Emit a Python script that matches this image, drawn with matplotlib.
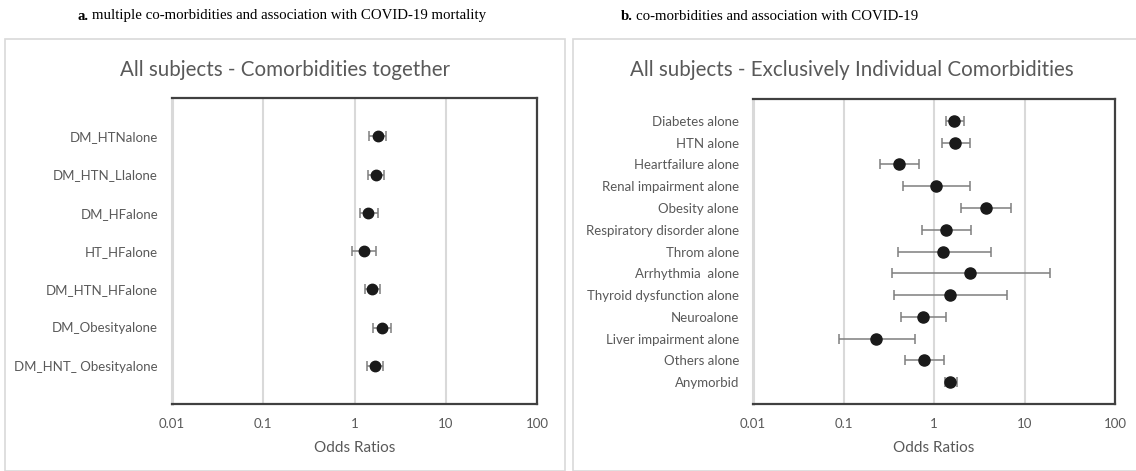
import matplotlib
matplotlib.use("Agg")
from matplotlib import pyplot as plt
from matplotlib.patches import Rectangle

# panel a - combinations of comorbidities
combo_labels = ["DM_HTNalone", "DM_HTN_LIalone", "DM_HFalone", "HT_HFalone",
                "DM_HTN_HFalone", "DM_Obesityalone", "DM_HNT_ Obesityalone"]
combo_or = [1.79, 1.71, 1.42, 1.26, 1.57, 1.99, 1.67]
combo_lo = [1.45, 1.39, 1.14, 0.94, 1.29, 1.60, 1.37]
combo_hi = [2.22, 2.11, 1.79, 1.70, 1.91, 2.50, 2.03]

# panel b - individual comorbidities
indiv_labels = ["Diabetes alone", "HTN alone", "Heartfailure alone", "Renal impairment alone",
                "Obesity alone", "Respiratory disorder alone", "Throm alone", "Arrhythmia  alone",
                "Thyroid dysfunction alone", "Neuroalone", "Liver impairment alone",
                "Others alone", "Anymorbid"]
indiv_or = [1.67, 1.72, 0.41, 1.06, 3.74, 1.35, 1.27, 2.53, 1.52, 0.75, 0.23, 0.77, 1.52]
indiv_lo = [1.34, 1.24, 0.25, 0.46, 2.01, 0.74, 0.40, 0.34, 0.36, 0.43, 0.09, 0.48, 1.31]
indiv_hi = [2.13, 2.49, 0.68, 2.51, 7.14, 2.55, 4.22, 19.0, 6.45, 1.34, 0.62, 1.29, 1.80]

xticks = [0.01, 0.1, 1, 10, 100]
xticklabels = ["0.01", "0.1", "1", "10", "100"]

W, H = 1136, 471
GRAY_TXT = "#595959"
LIGHT = "#d9d9d9"
DARK = "#404040"
SANS = ["Lato", "DejaVu Sans"]


def px_axes(fig, x0, y0, x1, y1):
    return fig.add_axes([x0 / W, 1 - y1 / H, (x1 - x0) / W, (y1 - y0) / H])


def forest(ax, labels, vals, lo, hi, msize):
    n = len(labels)
    ys = list(range(n, 0, -1))
    err = [[v - l for v, l in zip(vals, lo)], [h - v for v, h in zip(vals, hi)]]
    ax.errorbar(vals, ys, xerr=err, fmt="none", ecolor="#7f7f7f", elinewidth=1.1,
                capsize=3.5, capthick=1.1, zorder=2)
    ax.plot(vals, ys, "o", color="#1a1a1a", markersize=msize, zorder=3)
    ax.set_xscale("log")
    ax.set_xlim(0.01, 100)
    ax.set_ylim(0, n + 1)
    ax.set_xticks(xticks)
    ax.set_xticklabels(xticklabels)
    ax.minorticks_off()
    ax.set_yticks(ys)
    ax.set_yticklabels(labels)
    ax.tick_params(length=0, labelcolor=GRAY_TXT, labelsize=9.5, pad=10)
    for lab in ax.get_xticklabels() + ax.get_yticklabels():
        lab.set_family(SANS)
    ax.grid(axis="x", color=LIGHT, linewidth=1.5, zorder=0)
    ax.set_axisbelow(True)
    for s in ["top", "right", "bottom"]:
        ax.spines[s].set_color(DARK)
        ax.spines[s].set_linewidth(1.6)
    ax.spines["left"].set_color(LIGHT)
    ax.spines["left"].set_linewidth(2.2)
    ax.set_xlabel("Odds Ratios", color=GRAY_TXT, fontsize=11, family=SANS, labelpad=8)


fig = plt.figure(figsize=(W / 100, H / 100), dpi=100)

# panel frames
fig.patches.append(Rectangle((5 / W, 0), 560 / W, 1 - 39 / H, transform=fig.transFigure,
                             fill=False, edgecolor=LIGHT, linewidth=1.2))
fig.patches.append(Rectangle((573 / W, 0), 600 / W, 1 - 39 / H, transform=fig.transFigure,
                             fill=False, edgecolor=LIGHT, linewidth=1.2))

ax1 = px_axes(fig, 172, 98, 537, 404)
forest(ax1, combo_labels, combo_or, combo_lo, combo_hi, 7.5)

ax2 = px_axes(fig, 753, 99, 1115, 404)
forest(ax2, indiv_labels, indiv_or, indiv_lo, indiv_hi, 8)

fig.text(285 / W, 1 - 70 / H, "All subjects - Comorbidities together", ha="center", va="center",
         color=GRAY_TXT, fontsize=14.8, family=SANS)
fig.text(852 / W, 1 - 70 / H, "All subjects - Exclusively Individual Comorbidities", ha="center",
         va="center", color=GRAY_TXT, fontsize=14.8, family=SANS)

# captions: bold letter + plain text
captions = [(78, "a.", "multiple co-morbidities and association with COVID-19 mortality"),
            (621, "b.", "co-morbidities and association with COVID-19")]
fig.canvas.draw()
r = fig.canvas.get_renderer()
for x, letter, rest in captions:
    t = fig.text(x / W, 1 - 16 / H, letter, fontweight="bold", family="Liberation Serif",
                 fontsize=10.7, va="center", ha="left")
    bb = t.get_window_extent(renderer=r)
    fig.text((bb.x1 + 3.5) / W, 1 - 16 / H, rest, family="Liberation Serif",
             fontsize=10.7, va="center", ha="left")

fig.savefig("out.png", dpi=100)
